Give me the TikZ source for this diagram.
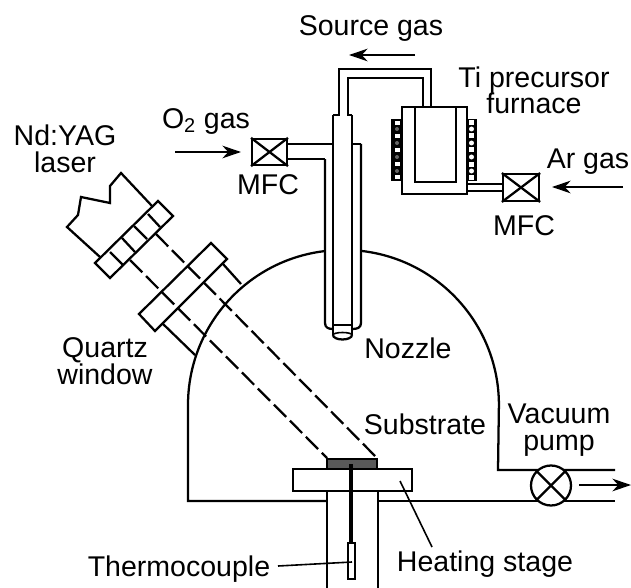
\documentclass[tikz,border=0pt]{standalone}
\usepackage{fontspec}
\setmainfont{Liberation Sans}
\usetikzlibrary{arrows.meta}
\tikzset{>=stealth}
\tikzstyle{line} = [draw, 
line width=1.7pt, line join=miter]
\tikzstyle{thinline} = [draw, 
line width=1.2pt]
\tikzstyle{flow} = [draw, 
line width=1.6pt, -{Stealth[length=14pt,width=9.5pt,inset=4.5pt]}]

\begin{document}
\begin{tikzpicture}[x=0.75pt, y=-0.75pt,
		label/.style={font=\fontsize{21.4}{20.25}\selectfont, inner sep=0pt, anchor=base, align=center},
		mfc/.style={draw, line width=1.7pt, rectangle, inner sep=0pt, fill=white}]
		\useasboundingbox (0,0) rectangle (631,588);
		%% Chamber
		\path [line] (327,501) -- (188,501) -- (188,405) arc[start angle=180, end angle=263.3, radius=155];
		\path [line] (362,251) arc[start angle=276.7, end angle=360, radius=155] -- (498,470) -- (615,470);
		\path [line] (378,501) -- (615,501);
		\node [draw, circle, line width=1.7pt, minimum size=30pt, inner sep=0pt, fill=white] at (551,485.5) (Pump) {};
		\path [line] (Pump.45) -- (Pump.225);
		\path [line] (Pump.135) -- (Pump.315);
		%% Laser
		\path [line] (100,257) -- (67,227) -- (78,215) -- (81,197) -- (110,203) -- (110,186) -- (121,173) -- (152,206);
		\path [line] (158,201) -- (173,216) -- (110,278) -- (95,263) -- cycle;
		\path [line] (110,252) -- (123,265);
		\path [line] (122,238) -- (135,252);
		\path [line] (134,226) -- (147,239);
		\path [line] (148,214) -- (160,227);
		%% Window
		\path [line] (211,243) -- (227,259) -- (155,331) -- (139,314) -- cycle;
		\path [line] (223,264) -- (241,284);
		\path [line] (162,323) -- (195,355);
		\path [line, dashed, dash pattern=on 13pt off 4pt] (156,234) -- (377,458);
		\path [line, dashed, dash pattern=on 13pt off 4pt] (130,260) -- (327,458);
		%% Stage
		\path [line] (293,469) rectangle (412,491);
		\path [line, fill=black!65] (327,459) rectangle (377,469);
		\path [line] (327,491) -- (327,588);
		\path [line] (378,491) -- (378,588);
		\draw [line width=3.4pt] (351,464) -- (351,543);
		\path [line, fill=white] (348,543) rectangle (355,579);
		\coordinate (ThermoEnd) at (278,566);
		\coordinate (ThermoTip) at (352,562);
		\path [thinline] (ThermoEnd) -- (ThermoTip);
		\coordinate (StageEnd) at (432,547);
		\coordinate (StageTip) at (400,481);
		\path [thinline] (StageEnd) -- (StageTip);
		%% Nozzle
		\path [line] (325,159) -- (325,323) .. controls (325,328) and (329,329) .. (333,329);
		\path [line] (361,144) -- (361,323) .. controls (361,328) and (357,329) .. (352,329);
		\path [line] (333,325) -- (352,325);
		\path [line] (333,115) -- (333,335);
		\path [line] (352,115) -- (352,335);
		\path [line] (333,335) arc[start angle=180, end angle=0, x radius=9.5, y radius=4.5];
		\path [thinline] (333,335) arc[start angle=180, end angle=360, x radius=9.5, y radius=2.5];
		%% Gas lines
		\node [mfc, minimum width=26pt, minimum height=19.5pt] at (269.5,152) (MFCO) {};
		\node [mfc, minimum width=27pt, minimum height=20pt] at (521,187.5) (MFCAr) {};
		\path [line] (MFCO.north west) -- (MFCO.south east);
		\path [line] (MFCO.north east) -- (MFCO.south west);
		\path [line] (MFCAr.north west) -- (MFCAr.south east);
		\path [line] (MFCAr.north east) -- (MFCAr.south west);
		\path [line] (MFCO.east |- 0,144) -- (333,144);
		\path [line] (MFCO.east |- 0,159) -- (325,159);
		\path [line] (352,144) -- (361,144);
		\path [line] (333,115) -- (339,115) -- (339,69) -- (431,69) -- (431,107);
		\path [line] (352,115) -- (348,115) -- (348,78) -- (423,78) -- (423,107);
		%% Furnace
		\path [line] (402,107) rectangle (467,194);
		\path [line] (415,107) -- (415,182) -- (456,182) -- (456,107);
		\path [line] (467,184) -- (MFCAr.west |- 0,184);
		\path [line] (467,191) -- (MFCAr.west |- 0,191);
		%% Coils
		\path [draw, fill=black, line width=1pt] (392,120) rectangle (402,180);
		\path [draw, fill=black, line width=1pt] (467,120) rectangle (476,180);
		\foreach \y in {123,136,150,164,177} {
			\fill [white] (394.5,\y-2) rectangle (399.5,\y+2);
			\fill [white] (469,\y-2.5) rectangle (474,\y+2.5);
		}
		\foreach \y in {129,143,157,171} {
			\fill [black!60] (397,\y) circle[radius=2];
			\fill [white] (471.5,\y) circle[radius=2.5];
		}
		%% Flows
		\coordinate (OStart) at (175,152);
		\coordinate (OEnd) at (241,152);
		\path [flow] (OStart) -- (OEnd);
		\coordinate (ArStart) at (623,187);
		\coordinate (ArEnd) at (552,187);
		\path [flow] (ArStart) -- (ArEnd);
		\coordinate (SourceStart) at (415,55);
		\coordinate (SourceEnd) at (349,55);
		\path [flow] (SourceStart) -- (SourceEnd);
		\coordinate (PumpStart) at (579,485);
		\coordinate (PumpEnd) at (631,485);
		\path [flow] (PumpStart) -- (PumpEnd);
		%% Labels
		\node [label] at (371,36) (SourceText) {Source gas};
		\node [label] at (534,114) (FurnaceText) {Ti precursor\\furnace};
		\node [label] at (206,128) (OText) {O\textsubscript{2} gas};
		\node [label] at (268,195) (MFCOText) {MFC};
		\node [label] at (588,168) (ArText) {Ar gas};
		\node [label] at (524,235) (MFCArText) {MFC};
		\node [label] at (65,172) (LaserText) {Nd:YAG\\laser};
		\node [label] at (105,384) (WindowText) {Quartz\\window};
		\node [label] at (408,358) (NozzleText) {Nozzle};
		\node [label] at (425,434) (SubstrateText) {Substrate};
		\node [label] at (559,450) (PumpText) {Vacuum\\pump};
		\node [label] at (179,576) (ThermoText) {Thermocouple};
		\node [label] at (485,571) (StageText) {Heating stage};
	\end{tikzpicture}
\end{document}
